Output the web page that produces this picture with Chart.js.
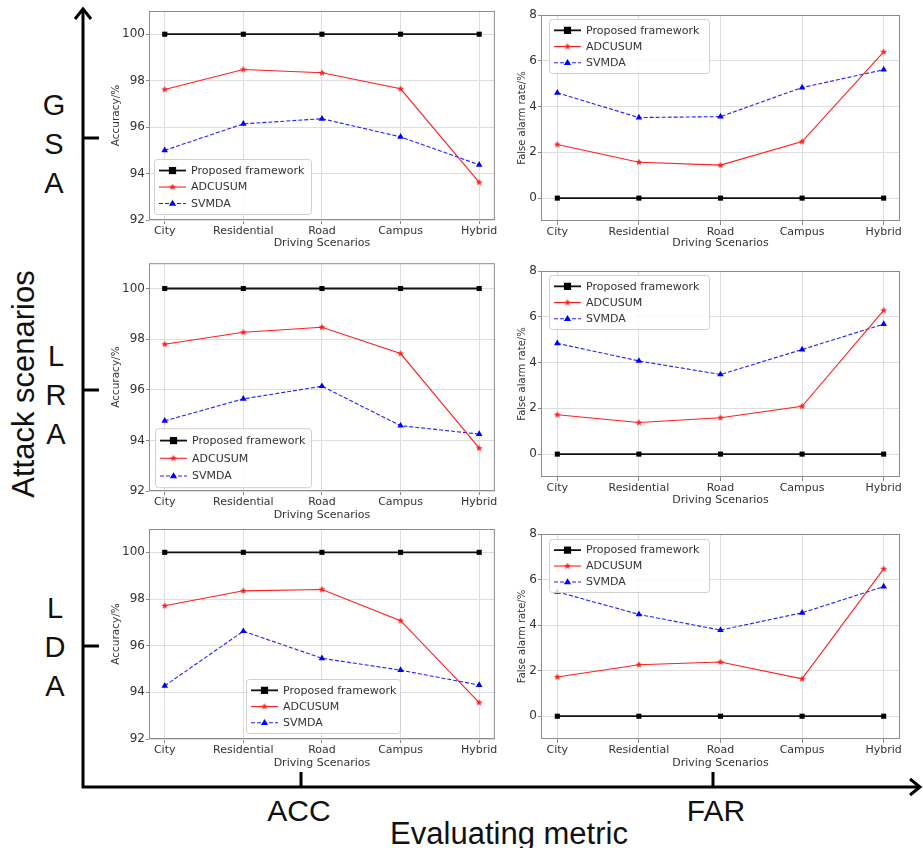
<!DOCTYPE html>
<html>
<head>
<meta charset="utf-8">
<script src="https://cdn.jsdelivr.net/npm/chart.js@4.4.1/dist/chart.umd.min.js"></script>
<style>
  body { margin: 0; background: #fff; }
  #page { position: relative; width: 923px; height: 848px; overflow: hidden; font-family: "Liberation Sans", Arial, sans-serif; color: #111; }
  #page canvas { position: absolute; }
  #frame { position: absolute; left: 0; top: 0; }
  .big { position: absolute; font-size: 30px; line-height: 1; white-space: nowrap; }
  .stack { position: absolute; font-size: 29px; line-height: 39px; text-align: center; width: 40px; }
</style>
</head>
<body>
<div id="page">
  <svg id="frame" width="923" height="848">
    <g stroke="#000" stroke-width="3" fill="none">
      <line x1="83" y1="9" x2="83" y2="788" />
      <line x1="82" y1="787" x2="920" y2="787" />
      <polyline points="75,19 83,9 91,19" />
      <polyline points="910,779 920,787 910,795" />
      <line x1="83" y1="138" x2="99" y2="138" />
      <line x1="83" y1="390" x2="99" y2="390" />
      <line x1="83" y1="646" x2="99" y2="646" />
      <line x1="301" y1="787" x2="301" y2="772" />
      <line x1="713" y1="787" x2="713" y2="772" />
    </g>
  </svg>
  <div class="stack" style="left:34px;top:86px">G<br>S<br>A</div>
  <div class="stack" style="left:36px;top:337px">L<br>R<br>A</div>
  <div class="stack" style="left:35px;top:589px">L<br>D<br>A</div>
  <div class="big" style="left:23px;top:384px;font-size:31px;transform:translate(-50%,-50%) rotate(-90deg)">Attack scenarios</div>
  <div class="big" style="left:299px;top:811px;transform:translate(-50%,-50%)">ACC</div>
  <div class="big" style="left:716px;top:811px;transform:translate(-50%,-50%)">FAR</div>
  <div class="big" style="left:509px;top:833px;font-size:31px;transform:translate(-50%,-50%)">Evaluating metric</div>

  <canvas id="gsaAcc"></canvas>
  <canvas id="gsaFar"></canvas>
  <canvas id="lraAcc"></canvas>
  <canvas id="lraFar"></canvas>
  <canvas id="ldaAcc"></canvas>
  <canvas id="ldaFar"></canvas>
</div>

<script>
// data
const scenarios = ["City", "Residential", "Road", "Campus", "Hybrid"];
const seriesNames = ["Proposed framework", "ADCUSUM", "SVMDA"];
const accTicks = [92, 94, 96, 98, 100];
const farTicks = [0, 2, 4, 6, 8];

const proposedAcc = [100, 100, 100, 100, 100];
const proposedFar = [0, 0, 0, 0, 0];

const gsaAccAdcusum = [97.62, 98.48, 98.34, 97.65, 93.62];
const gsaAccSvmda = [95.0, 96.14, 96.36, 95.58, 94.38];
const gsaFarAdcusum = [2.34, 1.57, 1.44, 2.47, 6.39];
const gsaFarSvmda = [4.6, 3.52, 3.56, 4.83, 5.61];

const lraAccAdcusum = [97.8, 98.27, 98.47, 97.43, 93.69];
const lraAccSvmda = [94.77, 95.64, 96.14, 94.58, 94.25];
const lraFarAdcusum = [1.72, 1.38, 1.59, 2.09, 6.28];
const lraFarSvmda = [4.84, 4.07, 3.48, 4.57, 5.68];

const ldaAccAdcusum = [97.71, 98.35, 98.41, 97.07, 93.56];
const ldaAccSvmda = [94.28, 96.62, 95.46, 94.95, 94.31];
const ldaFarAdcusum = [1.72, 2.26, 2.38, 1.64, 6.47];
const ldaFarSvmda = [5.46, 4.47, 3.78, 4.54, 5.69];

const TXT = "#333";
const SPINE = "#8c8c8c";
const GRID = "#dedede";
const PLOT_FONT = "'DejaVu Sans', sans-serif";

// small filled star like matplotlib's "*" marker
function starMarker(r, color) {
  const c = document.createElement("canvas");
  const s = Math.ceil(r * 2 + 2);
  c.width = s; c.height = s;
  const g = c.getContext("2d");
  g.fillStyle = color;
  g.beginPath();
  for (let i = 0; i < 10; i++) {
    const rad = i % 2 === 0 ? r : r * 0.45;
    const a = -Math.PI / 2 + i * Math.PI / 5;
    g.lineTo(s / 2 + rad * Math.cos(a), s / 2 + rad * Math.sin(a));
  }
  g.closePath();
  g.fill();
  return c;
}
const redStar = starMarker(3.6, "#ff2020");

function drawMarker(ctx, ds, x, y) {
  const st = ds.pointStyle;
  if (st instanceof HTMLCanvasElement) {
    ctx.drawImage(st, x - st.width / 2, y - st.height / 2);
  } else if (st === "rect") {
    const r = ds.pointRadius;
    ctx.fillStyle = ds.pointBackgroundColor;
    ctx.fillRect(x - r, y - r, r * 2, r * 2);
  } else if (st === "triangle") {
    const r = ds.pointRadius;
    ctx.fillStyle = ds.pointBackgroundColor;
    ctx.beginPath();
    ctx.moveTo(x, y - r);
    ctx.lineTo(x + r * 0.95, y + r * 0.6);
    ctx.lineTo(x - r * 0.95, y + r * 0.6);
    ctx.closePath();
    ctx.fill();
  }
}

// plot frame + matplotlib-like legend box
const framePlugin = {
  id: "frameLegend",
  afterDraw(chart) {
    const { ctx, chartArea: ca } = chart;
    const lg = chart.options.plugins.frameLegend;
    ctx.save();
    ctx.strokeStyle = SPINE;
    ctx.lineWidth = 1;
    ctx.strokeRect(ca.left + 0.5, ca.top + 0.5, ca.right - ca.left - 1, ca.bottom - ca.top - 1);

    const bx = ca.left + lg.x, by = ca.top + lg.y;
    ctx.beginPath();
    ctx.roundRect(bx + 0.5, by + 0.5, lg.w, lg.h, 3);
    ctx.fillStyle = "rgba(255,255,255,0.85)";
    ctx.fill();
    ctx.strokeStyle = "#d0d0d0";
    ctx.stroke();

    const rows = [0.21, 0.51, 0.81];
    chart.data.datasets.forEach((ds, i) => {
      const cy = by + lg.h * rows[i];
      ctx.save();
      ctx.strokeStyle = ds.borderColor;
      ctx.lineWidth = ds.borderWidth;
      ctx.setLineDash(ds.borderDash || []);
      ctx.beginPath();
      ctx.moveTo(bx + 5, cy);
      ctx.lineTo(bx + 32, cy);
      ctx.stroke();
      ctx.restore();
      drawMarker(ctx, ds, bx + 18.5, cy);
      ctx.fillStyle = TXT;
      ctx.font = "11px " + PLOT_FONT;
      ctx.textBaseline = "middle";
      ctx.fillText(ds.label, bx + 37, cy + 0.5);
    });
    ctx.restore();
  }
};

function makeChart(id, box, area, kind, adcusum, svmda, legend) {
  const cv = document.getElementById(id);
  cv.style.left = box.x + "px";
  cv.style.top = box.y + "px";
  cv.style.width = box.w + "px";
  cv.style.height = box.h + "px";
  cv.width = box.w;
  cv.height = box.h;

  const isAcc = kind === "acc";
  const yTicks = isAcc ? accTicks : farTicks;
  const proposed = isAcc ? proposedAcc : proposedFar;
  const pts = (arr) => arr.map((v, i) => ({ x: i, y: v }));

  new Chart(cv, {
    type: "line",
    data: {
      datasets: [
        {
          label: seriesNames[0], data: pts(proposed),
          borderColor: "#111", borderWidth: 1.8,
          pointStyle: "rect", pointRadius: 3.6,
          pointBackgroundColor: "#000", pointBorderColor: "#000", pointBorderWidth: 0
        },
        {
          label: seriesNames[1], data: pts(adcusum),
          borderColor: "#ff2020", borderWidth: 1.1,
          pointStyle: redStar, pointRadius: 3.6,
          pointBackgroundColor: "#ff2020"
        },
        {
          label: seriesNames[2], data: pts(svmda),
          borderColor: "#2020ff", borderWidth: 1.1, borderDash: [4, 2],
          pointStyle: "triangle", pointRadius: 3.8,
          pointBackgroundColor: "#0000ff", pointBorderColor: "#0000ff", pointBorderWidth: 0
        }
      ]
    },
    options: {
      responsive: false,
      animation: false,
      devicePixelRatio: 1,
      layout: { padding: { top: area.top - box.y, right: box.x + box.w - area.right, left: 0, bottom: 0 } },
      elements: { line: { tension: 0 } },
      plugins: {
        legend: { display: false },
        tooltip: { enabled: false },
        frameLegend: legend
      },
      scales: {
        x: {
          type: "linear",
          min: -0.2, max: 4.2,
          afterBuildTicks: (ax) => { ax.ticks = scenarios.map((_, i) => ({ value: i })); },
          afterFit: (s) => { s.height = box.y + box.h - area.bottom; },
          ticks: {
            callback: (v) => scenarios[v] ?? "",
            color: TXT, font: { family: PLOT_FONT, size: 11 },
            maxRotation: 0, autoSkip: false, padding: 1
          },
          grid: { color: GRID, tickColor: SPINE, tickLength: 4 },
          border: { display: false },
          title: {
            display: true, text: "Driving Scenarios", color: TXT,
            font: { family: PLOT_FONT, size: 11 }, padding: { top: 0, bottom: 0 }
          }
        },
        y: {
          min: isAcc ? 92 : -1, max: isAcc ? 101 : 8,
          afterBuildTicks: (ax) => { ax.ticks = yTicks.map((v) => ({ value: v })); },
          afterFit: (s) => { s.width = area.left - box.x; },
          ticks: { color: TXT, font: { family: PLOT_FONT, size: 12 }, padding: 1 },
          grid: { color: GRID, tickColor: SPINE, tickLength: 3 },
          border: { display: false },
          title: {
            display: true, text: isAcc ? "Accuracy/%" : "False alarm rate/%", color: TXT,
            font: { family: PLOT_FONT, size: isAcc ? 10.5 : 10 }, padding: { top: legend.titlePad, bottom: 0 }
          }
        }
      }
    },
    plugins: [framePlugin]
  });
}

makeChart("gsaAcc", { x: 100, y: 0, w: 400, h: 250 }, { left: 149, top: 11, right: 496, bottom: 220 },
  "acc", gsaAccAdcusum, gsaAccSvmda, { x: 5, y: 148, w: 157, h: 55, titlePad: 10 });
makeChart("gsaFar", { x: 500, y: 0, w: 423, h: 250 }, { left: 541, top: 15, right: 900, bottom: 221 },
  "far", gsaFarAdcusum, gsaFarSvmda, { x: 8, y: 4, w: 160, h: 54, titlePad: 16 });

makeChart("lraAcc", { x: 100, y: 255, w: 400, h: 267 }, { left: 149, top: 260, right: 496, bottom: 491 },
  "acc", lraAccAdcusum, lraAccSvmda, { x: 6, y: 165, w: 156, h: 59, titlePad: 10 });
makeChart("lraFar", { x: 500, y: 255, w: 423, h: 252 }, { left: 541, top: 271, right: 900, bottom: 477 },
  "far", lraFarAdcusum, lraFarSvmda, { x: 8, y: 4, w: 160, h: 54, titlePad: 16 });

makeChart("ldaAcc", { x: 100, y: 520, w: 400, h: 250 }, { left: 149, top: 529, right: 496, bottom: 739 },
  "acc", ldaAccAdcusum, ldaAccSvmda, { x: 97, y: 150, w: 154, h: 54, titlePad: 10 });
makeChart("ldaFar", { x: 500, y: 520, w: 423, h: 250 }, { left: 541, top: 534, right: 900, bottom: 739 },
  "far", ldaFarAdcusum, ldaFarSvmda, { x: 8, y: 5, w: 160, h: 53, titlePad: 16 });
</script>
</body>
</html>
